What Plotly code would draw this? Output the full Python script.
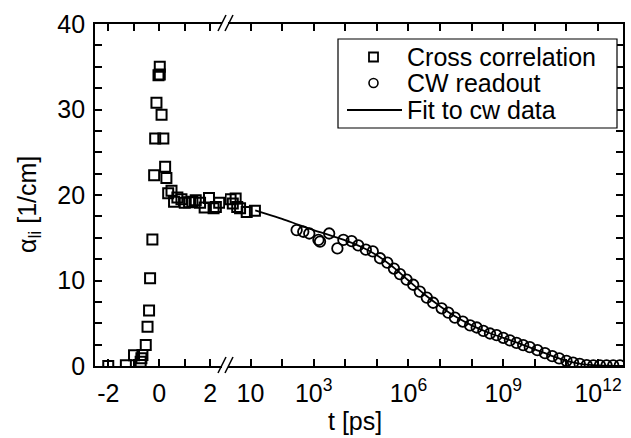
import plotly.graph_objects as go

# Cross-correlation data, linear part of the time axis (t in ps)
cc_t_lin = [-2.0, -1.31, -0.99, -0.73, -0.70, -0.66, -0.53, -0.46, -0.40, -0.36, -0.27,
            -0.20, -0.16, -0.11, -0.03, 0.02, 0.02, 0.09, 0.16, 0.23, 0.28, 0.35,
            0.48, 0.58, 0.71, 0.87, 1.00, 1.17, 1.30, 1.43, 1.60, 1.78, 1.95,
            2.13, 2.22, 2.35]
cc_a_lin = [0.0, 0.1, 1.25, 0.5, 0.9, 1.3, 2.45, 4.6, 6.5, 10.25, 14.8,
            22.3, 26.6, 30.8, 34.0, 35.0, 34.1, 29.4, 26.6, 23.3, 22.0, 20.2,
            20.5, 19.2, 19.7, 19.5, 19.1, 19.15, 19.2, 19.4, 19.1, 18.55, 19.65,
            18.45, 18.6, 19.1]

# Cross-correlation data, logarithmic part (log10 of t in ps)
cc_logt = [0.37, 0.44, 0.53, 0.58, 0.67, 0.88, 1.14]
cc_a_log = [19.5, 19.0, 19.6, 18.6, 18.45, 18.0, 18.15]

# CW readout (log10 of t in ps)
cw_logt = [2.46, 2.67, 2.86, 3.15, 3.20, 3.49, 3.75, 3.94, 4.20, 4.41, 4.65, 4.87,
           5.10, 5.33, 5.54, 5.73, 5.94, 6.15, 6.36, 6.58, 6.78, 7.05, 7.26,
           7.47, 7.72, 7.95, 8.16, 8.37, 8.58, 8.79, 9.00, 9.21, 9.42, 9.63,
           9.84, 10.08, 10.32, 10.55, 10.77, 11.00, 11.21, 11.42, 11.64, 11.85,
           12.06, 12.27, 12.48, 12.69]
cw_a = [15.9, 15.7, 15.5, 14.75, 14.55, 15.5, 13.75, 14.75, 14.6, 14.1, 13.6, 13.4,
        12.6, 12.1, 11.4, 10.75, 10.1, 9.5, 8.7, 8.0, 7.4, 6.75, 6.25,
        5.65, 5.2, 4.75, 4.5, 4.1, 3.8, 3.6, 3.3, 3.0, 2.7, 2.45,
        2.2, 1.85, 1.5, 1.15, 0.9, 0.6, 0.4, 0.25, 0.1, 0.08,
        0.08, 0.08, 0.08, 0.08]

# Fit to the cw data (log10 of t in ps)
fit_logt = [1.15, 1.5, 2.0, 2.5, 3.0, 3.5, 4.0, 4.5, 5.0, 5.5, 6.0, 6.5, 7.0, 7.5,
            8.0, 8.5, 9.0, 9.5, 10.0, 10.5, 11.0, 11.5, 12.0, 12.5, 12.8]
fit_a = [18.2, 17.8, 17.2, 16.55, 15.9, 15.3, 14.7, 13.95, 12.95, 11.6, 10.0, 8.4,
         7.0, 5.75, 4.75, 3.95, 3.3, 2.65, 1.95, 1.25, 0.6, 0.22, 0.06, 0.02, 0.0]

lin_tickvals = [-2, 0, 2]
lin_ticktext = ["-2", "0", "2"]
log_tickvals = [1e1, 1e3, 1e6, 1e9, 1e12]
log_ticktext = ["10", "10<sup>3</sup>", "10<sup>6</sup>", "10<sup>9</sup>", "10<sup>12</sup>"]
log_minorvals = [1e2, 1e4, 1e5, 1e7, 1e8, 1e10, 1e11]

legend_labels = ["Cross correlation", "CW readout", "Fit to cw data"]

FONT = "Liberation Sans, Arial, sans-serif"
FS = 25
W, H = 631, 438
ML, MR, MT, MB = 95, 8, 24, 72
PW, PH = W - ML - MR, H - MT - MB
BREAK_PX = 225
d_split = (BREAK_PX - ML) / PW


def px_x(p):
    return (p - ML) / PW


def px_y(p):
    return (MT + PH - p) / PH


fig = go.Figure()

sq = dict(symbol="square-open", size=10, color="black", line=dict(width=2, color="black"))
ci = dict(symbol="circle-open", size=10.5, color="black", line=dict(width=1.8, color="black"))

fig.add_trace(go.Scatter(x=cc_t_lin, y=cc_a_lin, mode="markers", marker=sq,
                         name=legend_labels[0], xaxis="x", yaxis="y"))
fig.add_trace(go.Scatter(x=[10 ** v for v in cc_logt], y=cc_a_log, mode="markers",
                         marker=sq, xaxis="x2", yaxis="y"))
fig.add_trace(go.Scatter(x=[10 ** v for v in cw_logt], y=cw_a, mode="markers",
                         marker=ci, name=legend_labels[1], xaxis="x2", yaxis="y"))
fig.add_trace(go.Scatter(x=[10 ** v for v in fit_logt], y=fit_a, mode="lines",
                         line=dict(color="black", width=1.8, shape="spline"),
                         name=legend_labels[2], xaxis="x2", yaxis="y"))
# invisible point that keeps the right-hand y axis drawn
fig.add_trace(go.Scatter(x=[1e5], y=[-10], mode="markers", xaxis="x2", yaxis="y2",
                         hoverinfo="skip", marker=dict(opacity=0)))

tick_style = dict(ticks="inside", ticklen=7, tickwidth=1.6, tickcolor="black")
axis_common = dict(showline=True, linecolor="black", linewidth=1.8, showgrid=False,
                   zeroline=False, tickfont=dict(family=FONT, size=FS, color="black"),
                   **tick_style)

fig.update_layout(
    width=W, height=H, margin=dict(l=ML, r=MR, t=MT, b=MB),
    paper_bgcolor="white", plot_bgcolor="white",
    font=dict(family=FONT, size=FS, color="black"),
    showlegend=False,
    xaxis=dict(domain=[0, d_split], range=[-2.52, -2.52 + (BREAK_PX - ML) / 25.5],
               tickvals=lin_tickvals, ticktext=lin_ticktext, mirror="ticks", anchor="y",
               ticklabelstandoff=4,
               minor=dict(dtick=1, tick0=0, **tick_style), **axis_common),
    xaxis2=dict(domain=[d_split, 1], type="log", range=[0.193, 12.79],
                tickvals=log_tickvals, ticktext=log_ticktext, mirror="ticks",
                anchor="y", ticklabelstandoff=4,
                minor=dict(tickvals=log_minorvals, **tick_style), **axis_common),
    yaxis=dict(range=[0, 40], tickvals=[0, 10, 20, 30, 40], anchor="x",
               ticklabelstandoff=3,
               minor=dict(dtick=2.5, tick0=0, **tick_style), **axis_common),
    yaxis2=dict(range=[0, 40], tickvals=[0, 10, 20, 30, 40], anchor="x2",
                overlaying="y", side="right", showticklabels=False,
                minor=dict(dtick=2.5, tick0=0, **tick_style), **axis_common),
)

# axis titles
fig.add_annotation(text="t [ps]", xref="paper", yref="paper", x=px_x(355), y=px_y(421),
                   xanchor="center", yanchor="middle", showarrow=False,
                   font=dict(family=FONT, size=FS))
fig.add_annotation(text="α<sub>li</sub> [1/cm]", xref="paper", yref="paper",
                   x=px_x(29), y=px_y(205), textangle=-90,
                   xanchor="center", yanchor="middle", showarrow=False,
                   font=dict(family=FONT, size=FS))

# legend box with its symbols and labels
fig.add_shape(type="rect", xref="paper", yref="paper",
              x0=px_x(338), x1=px_x(617), y0=px_y(128), y1=px_y(39),
              fillcolor="white", line=dict(color="black", width=1.2), layer="above")
row_y = [57, 83, 110]
fig.add_shape(type="rect", xref="paper", yref="paper",
              x0=px_x(369), x1=px_x(378), y0=px_y(row_y[0] + 4.5), y1=px_y(row_y[0] - 4.5),
              line=dict(color="black", width=1.8), layer="above")
fig.add_shape(type="circle", xref="paper", yref="paper",
              x0=px_x(369), x1=px_x(378), y0=px_y(row_y[1] + 4.5), y1=px_y(row_y[1] - 4.5),
              line=dict(color="black", width=1.6), layer="above")
fig.add_shape(type="line", xref="paper", yref="paper",
              x0=px_x(347), x1=px_x(402), y0=px_y(row_y[2]), y1=px_y(row_y[2]),
              line=dict(color="black", width=1.8), layer="above")
for label, yy in zip(legend_labels, row_y):
    fig.add_annotation(text=label, xref="paper", yref="paper", x=px_x(405), y=px_y(yy),
                       xanchor="left", yanchor="middle", showarrow=False,
                       font=dict(family=FONT, size=FS))

# axis-break marks "//" on the bottom and top axes
for base in (366, 24):
    fig.add_shape(type="rect", xref="paper", yref="paper",
                  x0=px_x(222), x1=px_x(228), y0=px_y(base + 2), y1=px_y(base - 2),
                  fillcolor="white", line=dict(width=0), layer="above")
    for dx in (0, 7):
        fig.add_shape(type="line", xref="paper", yref="paper",
                      x0=px_x(218 + dx), y0=px_y(base + 7),
                      x1=px_x(226 + dx), y1=px_y(base - 9),
                      line=dict(color="black", width=1.6), layer="above")

fig.write_html("out.html")
